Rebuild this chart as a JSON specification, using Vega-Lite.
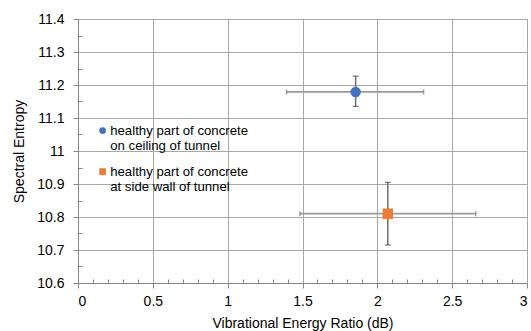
{
  "$schema": "https://vega.github.io/schema/vega-lite/v6.json",
  "width": 449,
  "height": 264,
  "autosize": {"type": "none"},
  "padding": {"left": 78, "top": 19, "right": 4, "bottom": 48},
  "background": "white",
  "config": {
    "view": {"stroke": null},
    "font": "Liberation Sans",
    "axis": {
      "labelFont": "Liberation Sans",
      "titleFont": "Liberation Sans",
      "labelFontSize": 14,
      "titleFontSize": 14,
      "titleFontWeight": "normal",
      "labelColor": "#000000",
      "titleColor": "#000000",
      "domainColor": "#868686",
      "tickColor": "#868686",
      "gridColor": "#a8a8a8",
      "labelOverlap": false
    }
  },
  "data": {
    "values": [
      {"series": "healthy part of concrete on ceiling of tunnel", "ratio": 1.855, "entropy": 11.179, "ratio_lo": 1.394, "ratio_hi": 2.309, "entropy_lo": 11.135, "entropy_hi": 11.227},
      {"series": "healthy part of concrete at side wall of tunnel", "ratio": 2.07, "entropy": 10.81, "ratio_lo": 1.483, "ratio_hi": 2.658, "entropy_lo": 10.715, "entropy_hi": 10.905}
    ]
  },
  "layer": [
    {
      "mark": {"type": "rule", "color": "#9a9a9a", "strokeWidth": 1.8},
      "encoding": {
        "x": {"field": "ratio_lo", "type": "quantitative",
          "scale": {"domain": [0, 3], "nice": false, "zero": false},
          "axis": {
            "title": "Vibrational Energy Ratio (dB)",
            "values": [0,0.1,0.2,0.3,0.4,0.5,0.6,0.7,0.8,0.9,1,1.1,1.2,1.3,1.4,1.5,1.6,1.7,1.8,1.9,2,2.1,2.2,2.3,2.4,2.5,2.6,2.7,2.8,2.9,3],
            "tickCount": 200,
            "labelExpr": "abs(datum.value*2-round(datum.value*2))<0.001 ? format(datum.value,'~g') : ''",
            "gridOpacity": {"condition": {"test": "abs(datum.value*2-round(datum.value*2))<0.001", "value": 1}, "value": 0},
            "tickSize": {"condition": {"test": "abs(datum.value*2-round(datum.value*2))<0.001", "value": 5}, "value": -4},
            "labelPadding": 6,
            "titlePadding": 8
          }
        },
        "x2": {"field": "ratio_hi"},
        "y": {"field": "entropy", "type": "quantitative",
          "scale": {"domain": [10.6, 11.4], "nice": false, "zero": false},
          "axis": {
            "title": "Spectral Entropy",
            "values": [10.6,10.65,10.7,10.75,10.8,10.85,10.9,10.95,11,11.05,11.1,11.15,11.2,11.25,11.3,11.35,11.4],
            "tickCount": 200,
            "labelExpr": "abs(datum.value*10-round(datum.value*10))<0.001 ? format(datum.value,'.3~g') : ''",
            "gridOpacity": {"condition": {"test": "abs(datum.value*10-round(datum.value*10))<0.001", "value": 1}, "value": 0},
            "tickSize": {"condition": {"test": "abs(datum.value*10-round(datum.value*10))<0.001", "value": 5}, "value": -4},
            "labelPadding": 9,
            "titlePadding": 10
          }
        }
      }
    },
    {
      "mark": {"type": "rule", "color": "#6e6e6e", "strokeWidth": 1.5},
      "encoding": {
        "x": {"field": "ratio", "type": "quantitative"},
        "y": {"field": "entropy_lo", "type": "quantitative"},
        "y2": {"field": "entropy_hi"}
      }
    },
    {
      "mark": {"type": "tick", "orient": "vertical", "color": "#7a7a7a", "size": 5, "thickness": 1.5},
      "encoding": {
        "x": {"field": "ratio_lo", "type": "quantitative"},
        "y": {"field": "entropy", "type": "quantitative"}
      }
    },
    {
      "mark": {"type": "tick", "orient": "vertical", "color": "#7a7a7a", "size": 5, "thickness": 1.5},
      "encoding": {
        "x": {"field": "ratio_hi", "type": "quantitative"},
        "y": {"field": "entropy", "type": "quantitative"}
      }
    },
    {
      "mark": {"type": "tick", "orient": "horizontal", "color": "#404040", "size": 6, "thickness": 1.2},
      "encoding": {
        "x": {"field": "ratio", "type": "quantitative"},
        "y": {"field": "entropy_lo", "type": "quantitative"}
      }
    },
    {
      "mark": {"type": "tick", "orient": "horizontal", "color": "#404040", "size": 6, "thickness": 1.2},
      "encoding": {
        "x": {"field": "ratio", "type": "quantitative"},
        "y": {"field": "entropy_hi", "type": "quantitative"}
      }
    },
    {
      "mark": {"type": "point", "filled": true, "opacity": 1, "size": 110},
      "encoding": {
        "x": {"field": "ratio", "type": "quantitative"},
        "y": {"field": "entropy", "type": "quantitative"},
        "color": {"field": "series", "type": "nominal",
          "scale": {"domain": ["healthy part of concrete on ceiling of tunnel", "healthy part of concrete at side wall of tunnel"], "range": ["#4472c4", "#ed7d31"]},
          "legend": {
            "title": null,
            "orient": "none",
            "legendX": 18,
            "legendY": 105,
            "padding": 0,
            "symbolSize": 45,
            "symbolOpacity": 1,
            "labelFont": "Liberation Sans",
            "labelFontSize": 13.2,
            "labelColor": "#000000",
            "labelLimit": 300,
            "labelOffset": 1,
            "rowPadding": 12,
            "labelExpr": "[slice(datum.label,0,24), slice(datum.label,25)]"
          }
        },
        "shape": {"field": "series", "type": "nominal",
          "scale": {"domain": ["healthy part of concrete on ceiling of tunnel", "healthy part of concrete at side wall of tunnel"], "range": ["circle", "square"]}
        }
      }
    }
  ]
}
